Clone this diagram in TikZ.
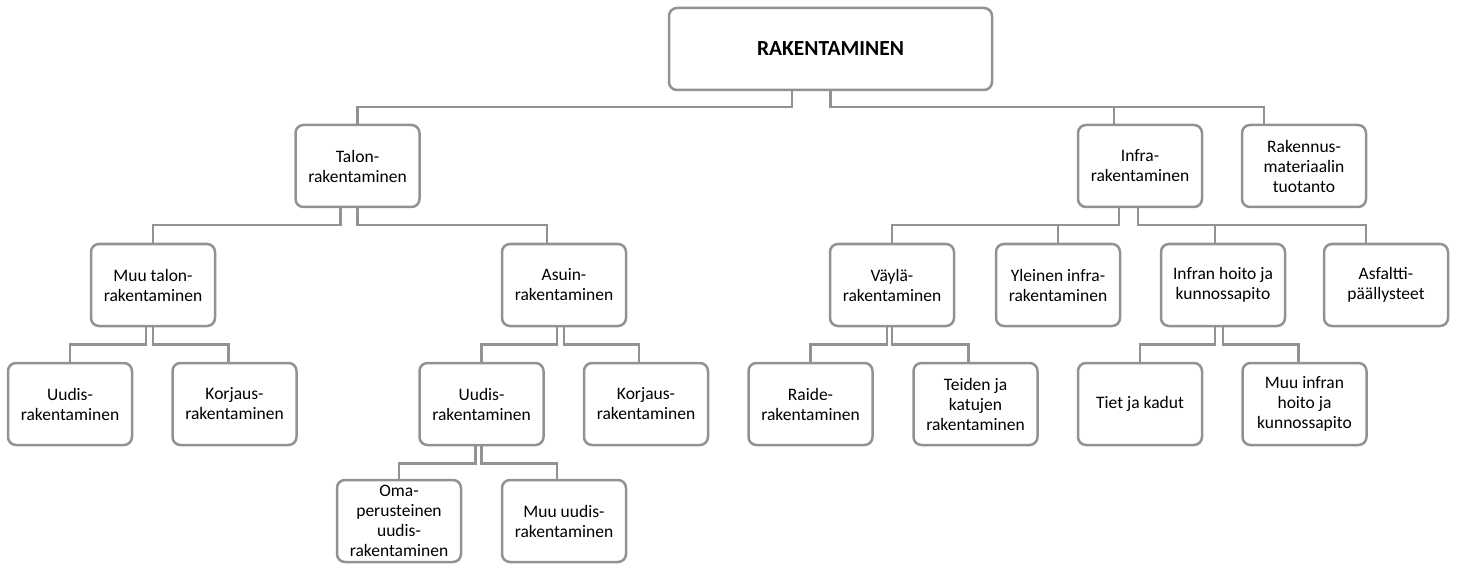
\documentclass[tikz,border=0pt]{standalone}
\usepackage{fontspec}
\setmainfont{Carlito}
\usepackage{xcolor}
\definecolor{linegray}{RGB}{146,146,146}

\begin{document}
\begin{tikzpicture}[x=1pt, y=-1pt,
        box/.style={draw=linegray, line width=2.5pt, rounded corners=8pt, fill=white,
            minimum width=124pt, minimum height=82pt, align=center, inner sep=2pt,
            font=\fontsize{17.5}{20}\selectfont},
        link/.style={draw=linegray, line width=2.5pt}]
            \useasboundingbox (0, 0) rectangle (1459, 564);
            % levels 0 and 1
            \node[box, minimum width=323pt, font=\fontsize{21.5}{24}\selectfont\bfseries] (root) at (830.5, 49) {RAKENTAMINEN};
            \node[box] (talon) at (357.5, 166) {Talon-\\rakentaminen};
            \node[box] (infra) at (1140, 166) {Infra-\\rakentaminen};
            \node[box] (rakmat) at (1304, 166) {Rakennus-\\materiaalin\\tuotanto};
            % level 2
            \node[box] (muutalon) at (153, 285) {Muu talon-\\rakentaminen};
            \node[box] (asuin) at (564, 285) {Asuin-\\rakentaminen};
            \node[box] (vayla) at (892, 285) {Väylä-\\rakentaminen};
            \node[box] (yleinen) at (1058, 285) {Yleinen infra-\\rakentaminen};
            \node[box] (hoito) at (1223, 285) {Infran hoito ja\\kunnossapito};
            \node[box] (asfaltti) at (1386, 285) {Asfaltti-\\päällysteet};
            % level 3
            \node[box] (uudisA) at (70, 404) {Uudis-\\rakentaminen};
            \node[box] (korjausA) at (234.5, 404) {Korjaus-\\rakentaminen};
            \node[box] (uudisB) at (481.5, 404) {Uudis-\\rakentaminen};
            \node[box] (korjausB) at (646, 404) {Korjaus-\\rakentaminen};
            \node[box] (raide) at (810.5, 404) {Raide-\\rakentaminen};
            \node[box] (teiden) at (975.5, 404) {Teiden ja\\katujen\\rakentaminen};
            \node[box] (tiet) at (1140, 404) {Tiet ja kadut};
            \node[box] (muuinfra) at (1304.5, 404) {Muu infran\\hoito ja\\kunnossapito};
            % level 4
            \node[box] (oma) at (399, 521) {Oma-\\perusteinen\\uudis-\\rakentaminen};
            \node[box] (muuuudis) at (564, 521) {Muu uudis-\\rakentaminen};

            \draw[link] ([xshift=-38.5pt]root.south) -- ++(0, 16) -| (talon.north);
            \draw[link] (root.south) -- ++(0, 16) -| ([xshift=-26pt]infra.north);
            \draw[link] (root.south) -- ++(0, 16) -| ([xshift=-40pt]rakmat.north);

            \draw[link] ([xshift=-17pt]talon.south) -- ++(0, 17) -| (muutalon.north);
            \draw[link] (talon.south) -- ++(0, 17) -| ([xshift=-17pt]asuin.north);
            \draw[link] ([xshift=-21pt]infra.south) -- ++(0, 17) -| (vayla.north);
            \draw[link] ([xshift=-21pt]infra.south) -- ++(0, 17) -| (yleinen.north);
            \draw[link] ([xshift=-2pt]infra.south) -- ++(0, 17) -| ([xshift=-8pt]hoito.north);
            \draw[link] ([xshift=-2pt]infra.south) -- ++(0, 17) -| ([xshift=-20pt]asfaltti.north);

            \draw[link] ([xshift=-7pt]muutalon.south) -- ++(0, 17) -| (uudisA.north);
            \draw[link] (muutalon.south) -- ++(0, 17) -| ([xshift=-6pt]korjausA.north);
            \draw[link] ([xshift=-7pt]asuin.south) -- ++(0, 17) -| (uudisB.north);
            \draw[link] (asuin.south) -- ++(0, 17) -| ([xshift=-7pt]korjausB.north);
            \draw[link] ([xshift=-5pt]vayla.south) -- ++(0, 17) -| (raide.north);
            \draw[link] (vayla.south) -- ++(0, 17) -| ([xshift=-7pt]teiden.north);
            \draw[link] ([xshift=-8pt]hoito.south) -- ++(0, 17) -| (tiet.north);
            \draw[link] (hoito.south) -- ++(0, 17) -| ([xshift=-6pt]muuinfra.north);

            \draw[link] ([xshift=-6pt]uudisB.south) -- ++(0, 17) -| (oma.north);
            \draw[link] (uudisB.south) -- ++(0, 17) -| ([xshift=-7pt]muuuudis.north);
        \end{tikzpicture}
\end{document}
